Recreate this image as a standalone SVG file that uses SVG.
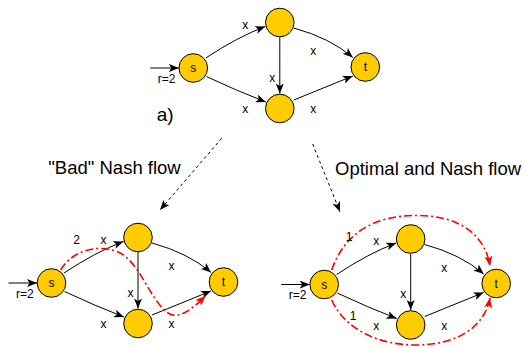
<svg xmlns="http://www.w3.org/2000/svg" width="526" height="348" viewBox="0 0 526 348">
  <style>
    text { font-family: "Liberation Sans", Arial, sans-serif; fill: #000; }
    .node { fill: #FFCC00; stroke: #000; stroke-width: 1; }
    .lbl { font-size: 12px; text-anchor: middle; }
    .title { font-size: 18.5px; }
    .edge { fill: none; stroke: #000; stroke-width: 1; marker-end: url(#arrow); }
    .guide { fill: none; stroke: #000; stroke-width: 1; stroke-dasharray: 3 3; marker-end: url(#arrow); }
    .flow { fill: none; stroke: #FF0000; stroke-width: 1.6; stroke-dasharray: 8 3 2 3; marker-end: url(#arrowRed); }
  </style>
  <defs>
    <marker id="arrow" markerUnits="userSpaceOnUse" markerWidth="11" markerHeight="8" refX="10" refY="4" orient="auto">
      <path d="M0,0 L10,4 L0,8 L2.5,4 z" fill="#000"/>
    </marker>
    <marker id="arrowRed" markerUnits="userSpaceOnUse" markerWidth="11" markerHeight="8" refX="10" refY="4" orient="auto">
      <path d="M0,0 L10,4 L0,8 L2.5,4 z" fill="#FF0000"/>
    </marker>
  </defs>

  <rect width="526" height="348" fill="#fff"/>

  <!-- network a) -->
  <g id="graph-a" transform="translate(193.3,68)">
    <g id="connectors-a">
      <path class="edge" d="M-43,0 L-14.5,0"/>
      <path class="edge" d="M12.5,-10 Q44,-31 72,-41.5"/>
      <path class="edge" d="M100.5,-40 Q137,-30 159.5,-10.5"/>
      <path class="edge" d="M13,8.5 Q44,23 72.5,34"/>
      <path class="edge" d="M100.5,32 Q130,20 159.5,8"/>
      <path class="edge" d="M86.5,-31 L86.5,25.5"/>
      <text class="lbl" x="52" y="-39.5">x</text>
      <text class="lbl" x="120" y="-13">x</text>
      <text class="lbl" x="79" y="13.5">x</text>
      <text class="lbl" x="52" y="45">x</text>
      <text class="lbl" x="120" y="45">x</text>
      <text class="lbl" x="-26.6" y="14.5">r=2</text>
    </g>
    <g id="a-s"><circle class="node" cx="0" cy="0" r="14.3"/><text class="lbl" x="0" y="4.3">s</text></g>
    <g id="a-u"><circle class="node" cx="86.5" cy="-45.5" r="14.3"/></g>
    <g id="a-v"><circle class="node" cx="86.5" cy="40.5" r="14.3"/></g>
    <g id="a-t"><circle class="node" cx="172" cy="-1" r="14.3"/><text class="lbl" x="172" y="3.3">t</text></g>
  </g>
  <text x="156.7" y="121" style="font-size:19px">a)</text>

  <!-- guide arrows and captions -->
  <g id="guides">
    <path class="guide" d="M221.7,138.3 L160,210"/>
    <path class="guide" d="M312.7,144 L340,211.7"/>
  </g>
  <text class="title" x="48.3" y="174.3">"Bad" Nash flow</text>
  <text class="title" x="335" y="175">Optimal and Nash flow</text>

  <!-- bad Nash flow -->
  <g id="graph-bad" transform="translate(51.5,283)">
    <g id="connectors-bad">
      <path class="edge" d="M-43,0 L-14.5,0"/>
      <path class="edge" d="M12.5,-10 Q44,-31 72,-41.5"/>
      <path class="edge" d="M100.5,-40 Q137,-30 159.5,-10.5"/>
      <path class="edge" d="M13,8.5 Q44,23 72.5,34"/>
      <path class="edge" d="M100.5,32 Q130,20 159.5,8"/>
      <path class="edge" d="M86.5,-31 L86.5,25.5"/>
      <path class="flow" d="M9.2,-13 C20.5,-33 48.5,-40 68.5,-30 C88.5,-20 98.5,17 116.5,30 C128.5,38 143.5,23 154,13"/>
      <text class="lbl" x="52" y="-39.5">x</text>
      <text class="lbl" x="120" y="-13">x</text>
      <text class="lbl" x="79" y="13.5">x</text>
      <text class="lbl" x="52" y="45">x</text>
      <text class="lbl" x="120" y="45">x</text>
      <text class="lbl" x="25" y="-39">2</text>
      <text class="lbl" x="-26.6" y="14.5">r=2</text>
    </g>
    <g id="bad-s"><circle class="node" cx="0" cy="0" r="14.3"/><text class="lbl" x="0" y="4.3">s</text></g>
    <g id="bad-u"><circle class="node" cx="86.5" cy="-45.5" r="14.3"/></g>
    <g id="bad-v"><circle class="node" cx="86.5" cy="40.5" r="14.3"/></g>
    <g id="bad-t"><circle class="node" cx="172" cy="-1" r="14.3"/><text class="lbl" x="172" y="3.3">t</text></g>
  </g>

  <!-- optimal and Nash flow -->
  <g id="graph-opt" transform="translate(324.2,284.5)">
    <g id="connectors-opt">
      <path class="edge" d="M-43,0 L-14.5,0"/>
      <path class="edge" d="M12.5,-10 Q44,-31 72,-41.5"/>
      <path class="edge" d="M100.5,-40 Q137,-30 159.5,-10.5"/>
      <path class="edge" d="M13,8.5 Q44,23 72.5,34"/>
      <path class="edge" d="M100.5,32 Q130,20 159.5,8"/>
      <path class="edge" d="M86.5,-31 L86.5,25.5"/>
      <path class="flow" d="M7.5,-14.5 C20.8,-52.5 50.8,-68.5 90.8,-69 C135.8,-69.5 160.8,-49.5 165.8,-18.5"/>
      <path class="flow" d="M7.5,15.5 C20.8,45.5 55.8,60.5 90.8,60.5 C135.8,60.5 160.8,40.5 165.8,13.5"/>
      <text class="lbl" x="52" y="-39.5">x</text>
      <text class="lbl" x="120" y="-13">x</text>
      <text class="lbl" x="79" y="13.5">x</text>
      <text class="lbl" x="52" y="45">x</text>
      <text class="lbl" x="120" y="45">x</text>
      <text class="lbl" x="25" y="-44">1</text>
      <text class="lbl" x="29" y="35.5">1</text>
      <text class="lbl" x="-26.6" y="14.5">r=2</text>
    </g>
    <g id="opt-s"><circle class="node" cx="0" cy="0" r="14.3"/><text class="lbl" x="0" y="4.3">s</text></g>
    <g id="opt-u"><circle class="node" cx="86.5" cy="-45.5" r="14.3"/></g>
    <g id="opt-v"><circle class="node" cx="86.5" cy="40.5" r="14.3"/></g>
    <g id="opt-t"><circle class="node" cx="172" cy="-1" r="14.3"/><text class="lbl" x="172" y="3.3">t</text></g>
  </g>
</svg>
